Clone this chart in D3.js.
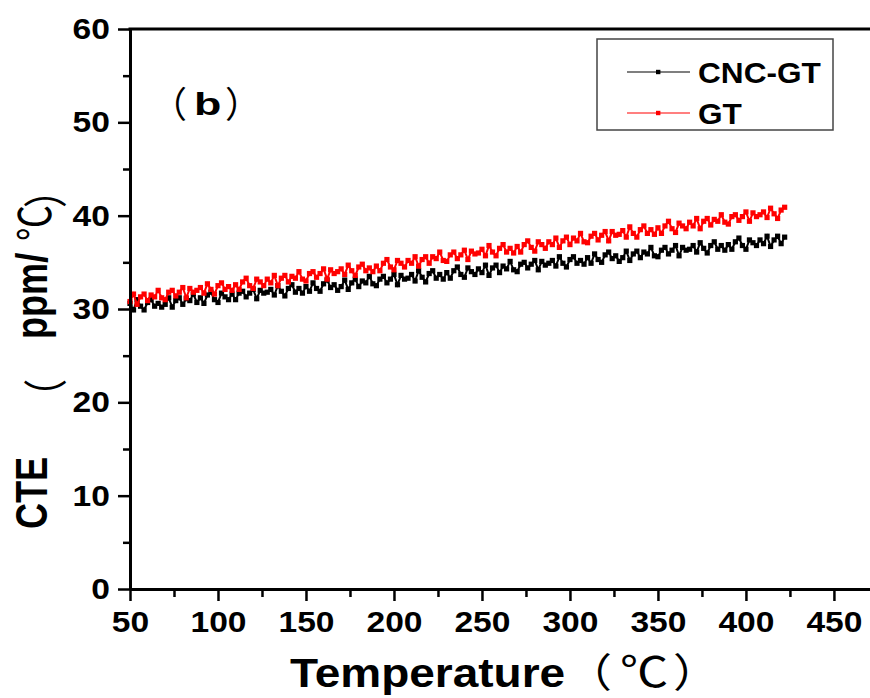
<!DOCTYPE html>
<html>
<head>
<meta charset="utf-8">
<script src="https://cdn.jsdelivr.net/npm/d3@7"></script>
<style>
  body { margin: 0; background: #fff; }
  svg { display: block; }
</style>
</head>
<body>
<div id="chart"></div>
<script>
// temperature grid (°C)
const temperature = [
  50, 52, 54, 56, 58, 60, 62, 64, 66, 68,
  70, 72, 74, 76, 78, 80, 82, 84, 86, 88,
  90, 92, 94, 96, 98, 100, 102, 104, 106, 108,
  110, 112, 114, 116, 118, 120, 122, 124, 126, 128,
  130, 132, 134, 136, 138, 140, 142, 144, 146, 148,
  150, 152, 154, 156, 158, 160, 162, 164, 166, 168,
  170, 172, 174, 176, 178, 180, 182, 184, 186, 188,
  190, 192, 194, 196, 198, 200, 202, 204, 206, 208,
  210, 212, 214, 216, 218, 220, 222, 224, 226, 228,
  230, 232, 234, 236, 238, 240, 242, 244, 246, 248,
  250, 252, 254, 256, 258, 260, 262, 264, 266, 268,
  270, 272, 274, 276, 278, 280, 282, 284, 286, 288,
  290, 292, 294, 296, 298, 300, 302, 304, 306, 308,
  310, 312, 314, 316, 318, 320, 322, 324, 326, 328,
  330, 332, 334, 336, 338, 340, 342, 344, 346, 348,
  350, 352, 354, 356, 358, 360, 362, 364, 366, 368,
  370, 372, 374, 376, 378, 380, 382, 384, 386, 388,
  390, 392, 394, 396, 398, 400, 402, 404, 406, 408,
  410, 412, 414, 416, 418, 420, 422
];

// CTE (ppm/℃) of CNC-GT
const cncGT = [
  30.6, 29.9, 31.0, 30.3, 29.9, 30.7, 31.0, 30.3, 30.6, 30.2,
  30.5, 31.2, 30.2, 30.9, 31.2, 30.5, 31.1, 30.9, 31.6, 30.7,
  31.2, 30.6, 31.5, 31.8, 31.0, 30.7, 31.7, 31.3, 31.0, 31.6,
  31.0, 31.7, 31.9, 31.3, 31.7, 32.1, 31.1, 32.0, 31.7, 31.8,
  32.1, 31.5, 32.5, 31.9, 31.4, 32.2, 32.6, 31.8, 32.2, 31.7,
  32.4, 31.9, 32.8, 32.2, 31.9, 32.7, 33.1, 32.3, 32.6, 32.0,
  32.4, 33.1, 32.1, 32.8, 33.2, 32.4, 33.0, 32.8, 33.5, 32.7,
  32.5, 33.2, 33.5, 32.8, 33.2, 33.7, 32.6, 33.6, 33.2, 33.3,
  33.7, 33.0, 34.1, 33.4, 32.9, 33.8, 34.1, 33.3, 33.7, 33.2,
  33.9, 33.3, 34.1, 34.5, 33.7, 33.4, 34.4, 34.0, 33.7, 34.3,
  33.9, 34.7, 33.6, 34.4, 34.7, 33.9, 34.6, 34.3, 35.1, 34.2,
  34.0, 34.8, 35.0, 34.4, 34.8, 35.2, 34.2, 35.1, 34.7, 34.9,
  35.2, 34.6, 35.6, 34.9, 34.5, 35.3, 35.6, 34.9, 35.2, 34.8,
  35.5, 34.9, 35.9, 35.3, 35.0, 35.8, 36.1, 35.4, 35.7, 35.1,
  35.5, 36.2, 35.2, 35.9, 36.2, 35.5, 36.1, 35.9, 36.6, 35.7,
  35.6, 36.3, 36.6, 35.9, 36.3, 36.8, 35.7, 36.6, 36.3, 36.4,
  36.8, 36.1, 37.1, 36.5, 36.0, 36.8, 37.2, 36.4, 36.8, 36.3,
  36.9, 36.4, 37.2, 37.6, 36.8, 36.4, 37.4, 37.1, 36.8, 37.4,
  37.0, 37.8, 36.7, 37.4, 37.8, 37.0, 37.7
];

// CTE (ppm/℃) of GT
const gt = [
  30.8, 31.6, 30.5, 31.3, 31.6, 30.9, 31.5, 31.3, 32.0, 31.2,
  31.0, 31.8, 32.0, 31.4, 31.8, 32.3, 31.2, 32.2, 31.8, 32.0,
  32.3, 31.7, 32.7, 32.1, 31.6, 32.5, 32.8, 32.1, 32.4, 32.0,
  32.6, 32.1, 32.9, 33.3, 32.5, 32.2, 33.2, 32.9, 32.5, 33.2,
  32.8, 33.6, 32.5, 33.3, 33.6, 32.9, 33.5, 33.3, 34.0, 33.2,
  33.0, 33.8, 34.0, 33.4, 33.8, 34.3, 33.2, 34.2, 33.8, 34.0,
  34.3, 33.7, 34.7, 34.1, 33.6, 34.5, 34.8, 34.1, 34.4, 34.0,
  34.6, 34.1, 34.9, 35.3, 34.5, 34.2, 35.2, 34.9, 34.5, 35.2,
  34.9, 35.6, 34.6, 35.3, 35.6, 34.9, 35.6, 35.4, 36.1, 35.2,
  35.1, 35.8, 36.1, 35.4, 35.8, 36.3, 35.3, 36.2, 35.9, 36.0,
  36.4, 35.7, 36.8, 36.1, 35.7, 36.5, 36.9, 36.1, 36.5, 36.0,
  36.7, 36.1, 36.9, 37.3, 36.6, 36.2, 37.2, 36.9, 36.5, 37.2,
  36.9, 37.6, 36.6, 37.3, 37.7, 36.9, 37.6, 37.3, 38.1, 37.2,
  37.1, 37.8, 38.1, 37.4, 37.9, 38.3, 37.3, 38.3, 37.9, 38.0,
  38.4, 37.7, 38.8, 38.1, 37.7, 38.5, 38.9, 38.1, 38.5, 38.0,
  38.7, 38.1, 38.9, 39.4, 38.6, 38.2, 39.2, 38.9, 38.6, 39.3,
  38.9, 39.7, 38.6, 39.4, 39.7, 39.0, 39.6, 39.4, 40.1, 39.3,
  39.1, 39.9, 40.1, 39.5, 39.9, 40.4, 39.4, 40.3, 39.9, 40.1,
  40.4, 39.8, 40.8, 40.2, 39.7, 40.6, 40.9
];

const seriesNames = ["CNC-GT", "GT"];
const seriesColors = ["#000000", "#ff0000"];
const seriesValues = [cncGT, gt];

const xMajor = [50, 100, 150, 200, 250, 300, 350, 400, 450];
const xMinor = [75, 125, 175, 225, 275, 325, 375, 425];
const yMajor = [0, 10, 20, 30, 40, 50, 60];
const yMinor = [5, 15, 25, 35, 45, 55];

const boldFont = "'Liberation Sans', Arial, sans-serif";
const cjkFont = "'Noto Sans CJK SC', sans-serif";

const width = 870, height = 698;
const svg = d3.select("#chart").append("svg")
    .attr("width", width)
    .attr("height", height);

const x = d3.scaleLinear().domain([50, 470.5]).range([130, 870]);
const y = d3.scaleLinear().domain([0, 60]).range([589, 29]);

// data: black first, red on top
seriesValues.forEach((vals, k) => {
    const pts = temperature.map((t, i) => [t, vals[i]]);
    svg.append("path")
        .datum(pts)
        .attr("d", d3.line().x(d => x(d[0])).y(d => y(d[1])))
        .attr("fill", "none")
        .attr("stroke", seriesColors[k])
        .attr("stroke-width", 2);
    svg.append("g").selectAll("rect")
        .data(pts)
        .enter()
        .append("rect")
        .attr("x", d => x(d[0]) - 2.6)
        .attr("y", d => y(d[1]) - 2.6)
        .attr("width", 5.2)
        .attr("height", 5.2)
        .attr("fill", seriesColors[k]);
});

// axes
function styleAxis(g) {
    g.select(".domain").attr("stroke-width", 3).attr("stroke", "#000");
    g.selectAll(".tick line").attr("stroke-width", 2.5).attr("stroke", "#000");
    g.selectAll(".tick text")
        .attr("fill", "#000")
        .attr("transform", "scale(1.12,1)")
        .style("font-family", boldFont)
        .style("font-weight", "bold")
        .style("font-size", "30px");
}

svg.append("g")
    .attr("transform", `translate(0,${y(0)})`)
    .call(d3.axisBottom(x).tickValues(xMinor).tickSize(8).tickFormat("").tickSizeOuter(0))
    .call(g => g.select(".domain").remove())
    .call(styleAxis);
svg.append("g")
    .attr("transform", `translate(0,${y(0)})`)
    .call(d3.axisBottom(x).tickValues(xMajor).tickSize(12).tickPadding(10).tickSizeOuter(0))
    .call(styleAxis);

svg.append("g")
    .attr("transform", `translate(${x(50)},0)`)
    .call(d3.axisLeft(y).tickValues(yMinor).tickSize(7).tickFormat("").tickSizeOuter(0))
    .call(g => g.select(".domain").remove())
    .call(styleAxis);
svg.append("g")
    .attr("transform", `translate(${x(50)},0)`)
    .call(d3.axisLeft(y).tickValues(yMajor).tickSize(12).tickPadding(6).tickSizeOuter(0))
    .call(styleAxis);

// top frame line
svg.append("line")
    .attr("x1", x(50) - 1.5).attr("x2", width)
    .attr("y1", y(60)).attr("y2", y(60))
    .attr("stroke", "#000").attr("stroke-width", 3);

// panel label (b)
const lab = svg.append("g");
lab.append("text").attr("transform", "translate(151,118)")
    .style("font-family", cjkFont).style("font-size", "36px").text("（");
lab.append("text").attr("transform", "translate(194,115) scale(1.4,1)")
    .style("font-family", boldFont).style("font-weight", "bold").style("font-size", "32px").text("b");
lab.append("text").attr("transform", "translate(225,118)")
    .style("font-family", cjkFont).style("font-size", "36px").text("）");

// legend
const legend = svg.append("g");
legend.append("rect")
    .attr("x", 597).attr("y", 39).attr("width", 236).attr("height", 91)
    .attr("fill", "#fff").attr("stroke", "#444").attr("stroke-width", 1.5);
seriesNames.forEach((name, k) => {
    const ly = 72 + k * 41;
    legend.append("line")
        .attr("x1", 627).attr("x2", 690).attr("y1", ly).attr("y2", ly)
        .attr("stroke", seriesColors[k]).attr("stroke-width", 1.2);
    legend.append("rect")
        .attr("x", 656).attr("y", ly - 2.2).attr("width", 4.4).attr("height", 4.4)
        .attr("fill", seriesColors[k]);
    legend.append("text")
        .attr("transform", `translate(698,${ly + 11}) scale(1.09,1)`)
        .style("font-family", boldFont).style("font-weight", "bold").style("font-size", "29px")
        .text(name);
});

// x title
function xPiece(text, sx, family, weight, size) {
    svg.append("text")
        .attr("transform", `translate(${sx},687) scale(1.15,1)`)
        .style("font-family", family).style("font-weight", weight).style("font-size", size + "px")
        .text(text);
}
xPiece("Temperature", 290, boldFont, "bold", 40);
xPiece("（", 566, cjkFont, "normal", 40);
xPiece("℃", 620, cjkFont, "normal", 42);
xPiece("）", 673, cjkFont, "normal", 40);

// y title
function yPiece(text, sx, sy, family, weight) {
    svg.append("text")
        .attr("transform", `translate(${sx},${sy}) rotate(-90) scale(0.82,1)`)
        .style("font-family", family).style("font-weight", weight).style("font-size", "44px")
        .text(text);
}
yPiece("CTE", 47, 529, boldFont, "bold");
yPiece("（", 62, 415, cjkFont, "normal");
yPiece("ppm/", 47, 339, boldFont, "bold");
yPiece("℃", 51, 241, cjkFont, "normal");
yPiece("）", 62, 208, cjkFont, "normal");
</script>
</body>
</html>
